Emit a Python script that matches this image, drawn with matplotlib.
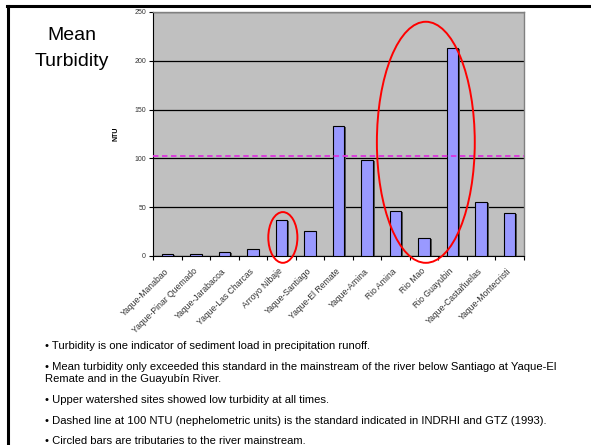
import matplotlib
matplotlib.use("Agg")
import matplotlib.pyplot as plt
from matplotlib.patches import Ellipse
import matplotlib.patheffects as pe
from matplotlib.lines import Line2D

plt.rcParams['font.family'] = ['Liberation Sans', 'DejaVu Sans']

sites = ["Yaque-Manabao", "Yaque-Pinar Quemado", "Yaque-Jarabacoa", "Yaque-Las Charcas",
         "Arroyo Nibaje", "Yaque-Santiago", "Yaque-El Remate", "Yaque-Amina",
         "Rio Amina", "Rio Mao", "Rio Guayubin", "Yaque-Castañuelas", "Yaque-Montecristi"]
ntu = [2, 2.5, 4, 7.5, 36.5, 26, 133, 98, 46, 18.5, 213.5, 55, 44]
standard = 102
yticks = [0, 50, 100, 150, 200, 250]

bullet_lines = [
    "• Turbidity is one indicator of sediment load in precipitation runoff.",
    "• Mean turbidity only exceeded this standard in the mainstream of the river below Santiago at Yaque-El",
    "Remate and in the Guayubín River.",
    "• Upper watershed sites showed low turbidity at all times.",
    "• Dashed line at 100 NTU (nephelometric units) is the standard indicated in INDRHI and GTZ (1993).",
    "• Circled bars are tributaries to the river mainstream.",
]

W, H = 591, 445
fig = plt.figure(figsize=(W/100, H/100), dpi=100)

# slide border lines
fig.add_artist(Line2D([7/W, 1], [1-5.5/H, 1-5.5/H], color='black', lw=2.2, transform=fig.transFigure))
fig.add_artist(Line2D([7.5/W, 7.5/W], [0, 1-5.5/H], color='black', lw=2.2, transform=fig.transFigure))

ax = fig.add_axes([153/W, 1-256/H, (524-153)/W, (256-12)/H])
ax.set_facecolor('#C0C0C0')
x = list(range(len(sites)))
bars = ax.bar(x, ntu, width=0.4, color='#9999FF', edgecolor='black', linewidth=0.8, zorder=3)
for b in bars:
    b.set_path_effects([pe.SimplePatchShadow(offset=(1.3, -0.8), shadow_rgbFace='#555555', alpha=1.0), pe.Normal()])
ax.set_xlim(-0.5, len(sites)-0.5)
ax.set_ylim(0, 250)
ax.set_yticks(yticks)
ax.set_yticklabels([str(v) for v in yticks], fontsize=5, color='#333333')
ax.yaxis.grid(True, color='black', lw=0.9, zorder=1)
ax.set_axisbelow(True)
ax.axhline(standard, color='#DD33DD', lw=1.3, ls=(0, (3, 2)), zorder=4)

ax.set_xticks([i + 0.5 for i in range(-1, len(sites))], minor=False)
ax.set_xticklabels([])
ax.tick_params(axis='x', direction='out', length=3, width=0.8, color='black')
ax.tick_params(axis='y', direction='out', length=3, width=0.8, color='black', pad=2)
for i, s in enumerate(sites):
    ax.text(i - 0.12, -11, s, rotation=45, ha='right', va='top', fontsize=6.2,
            color='#333333', rotation_mode='anchor', clip_on=False)

for side in ['top', 'right']:
    ax.spines[side].set_color('#808080')
    ax.spines[side].set_linewidth(1)
ax.spines['left'].set_color('black')
ax.spines['bottom'].set_color('black')

ax.set_ylabel("NTU", fontsize=5, fontweight='bold', labelpad=11)

ax.add_patch(Ellipse((4.05, 19), 1.02, 52, fill=False, edgecolor='red', lw=1.4, zorder=5, clip_on=False))
ax.add_patch(Ellipse((9.06, 116.5), 3.43, 247, fill=False, edgecolor='red', lw=1.4, zorder=5, clip_on=False))

fig.text(72/W, 1-35/H, "Mean", fontsize=14, ha='center', va='center')
fig.text(72/W, 1-62/H, "Turbidity", fontsize=14, ha='center', va='center')

ys = [346, 367, 379, 400, 421, 441]
for y, t in zip(ys, bullet_lines):
    fig.text(45/W, 1-y/H, t, fontsize=8.1, ha='left', va='center')

fig.savefig("out.png", dpi=100)
